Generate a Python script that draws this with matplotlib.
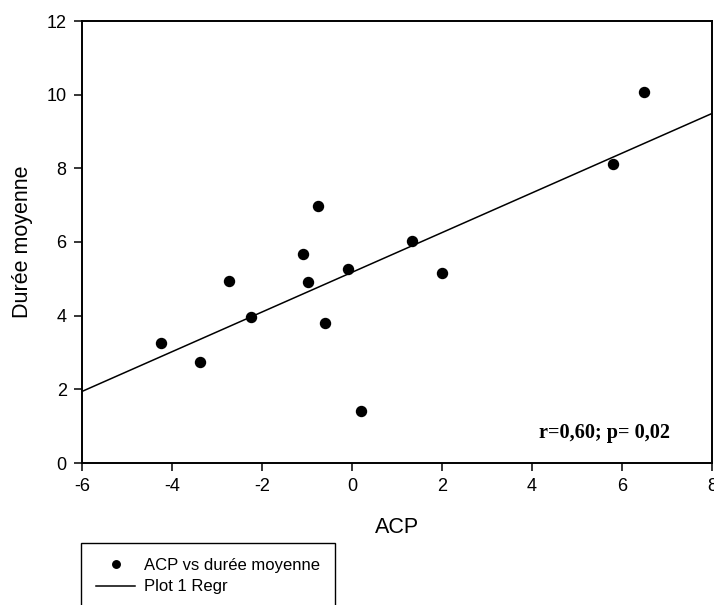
import matplotlib
matplotlib.use('Agg')
import matplotlib.pyplot as plt
import numpy as np

plt.rcParams['font.family'] = ['Liberation Sans', 'DejaVu Sans']
plt.rcParams['axes.unicode_minus'] = False

# points
acp = [-4.25, -3.38, -2.73, -2.24, -1.09, -0.97, -0.75, -0.59, -0.10, 0.19, 1.34, 2.01, 5.79, 6.49]
duree = [3.26, 2.75, 4.94, 3.96, 5.67, 4.91, 6.98, 3.79, 5.26, 1.42, 6.02, 5.16, 8.13, 10.08]

xticks = [-6, -4, -2, 0, 2, 4, 6, 8]
yticks = [0, 2, 4, 6, 8, 10, 12]
stat_text = 'r=0,60; p= 0,02'

fig = plt.figure(figsize=(7.14, 6.05), dpi=100)
ax = fig.add_axes([82 / 714, 1 - 463 / 605, 630 / 714, 442 / 605])

pts, = ax.plot(acp, duree, 'o', color='black', markersize=7.2, label='ACP vs durée moyenne')

# regression line over the whole x range
slope, icpt = np.polyfit(acp, duree, 1)
xs = np.array([xticks[0], xticks[-1]])
reg, = ax.plot(xs, slope * xs + icpt, color='black', linewidth=1.1, label='Plot 1 Regr')

ax.set_xlim(xticks[0], xticks[-1])
ax.set_ylim(yticks[0], yticks[-1])
ax.set_xticks(xticks)
ax.set_yticks(yticks)

for s in ax.spines.values():
    s.set_linewidth(1.4)
ax.tick_params(direction='out', length=6, width=1.1, pad=5, labelsize=13)

ax.set_xlabel('ACP', fontsize=15.5, va='center')
ax.set_ylabel('Durée moyenne', fontsize=15.5, va='center')
ax.xaxis.set_label_coords(0.5, -0.145)
ax.yaxis.set_label_coords(-0.095, 0.5)

ax.text(0.725, 0.057, stat_text, transform=ax.transAxes, fontsize=14.6,
        fontweight='bold', family=['Liberation Serif', 'DejaVu Serif'], va='baseline')

leg = fig.legend(handles=[pts, reg], loc='upper left',
                 bbox_to_anchor=(81 / 714, 1 - 542.7 / 605), bbox_transform=fig.transFigure,
                 borderaxespad=0, fontsize=12, fancybox=False, framealpha=1,
                 edgecolor='black', markerscale=0.75, handlelength=2.35,
                 handletextpad=0.55, labelspacing=0.4, borderpad=0.9)
leg.get_frame().set_linewidth(1.0)

fig.savefig('out.png', dpi=100)
